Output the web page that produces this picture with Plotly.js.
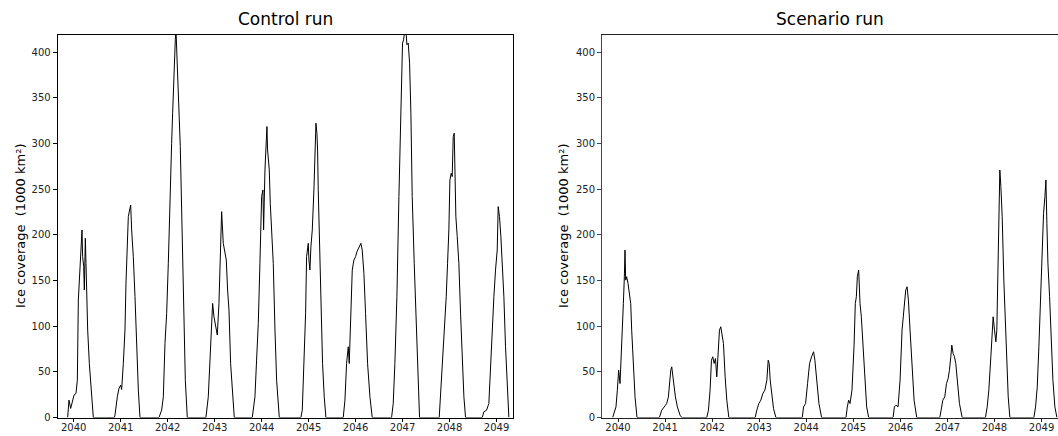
<!DOCTYPE html>
<html>
<head>
<meta charset="utf-8">
<script src="https://cdn.plot.ly/plotly-3.0.1.min.js"></script>
<style>
  html, body { margin: 0; padding: 0; background: #fff; }
  #chart { width: 1058px; height: 436px; }
</style>
</head>
<body>
<div id="chart"></div>
<script>
// ---- Data (decimal year, ice coverage in 1000 km²) ----
const yearTicks = [2040, 2041, 2042, 2043, 2044, 2045, 2046, 2047, 2048, 2049];
const yearLabels = ["2040", "2041", "2042", "2043", "2044", "2045", "2046", "2047", "2048", "2049"];
const valueTicks = [0, 50, 100, 150, 200, 250, 300, 350, 400];

const panelTitles = ["Control run", "Scenario run"];
const yTitle = "Ice coverage  (1000 km²)";

const controlTime = [
  2039.872,2039.900,2039.936,2039.971,2040.007,2040.049,2040.078,2040.099,2040.120,2040.135,2040.156,2040.177,2040.191,2040.213,2040.227,2040.248,2040.262,2040.276,2040.298,2040.333,2040.369,2040.418,
  2040.865,2040.879,2040.929,2040.964,2041.000,2041.021,2041.057,2041.092,2041.113,2041.135,2041.163,2041.191,2041.213,2041.234,2041.269,2041.305,2041.340,2041.376,2041.411,
  2041.815,2041.872,2041.908,2041.943,2041.979,2042.014,2042.049,2042.085,2042.106,2042.135,2042.163,2042.177,2042.198,2042.227,2042.248,2042.269,2042.291,2042.312,2042.340,2042.376,2042.418,
  2042.815,2042.865,2042.901,2042.936,2042.957,2042.986,2043.021,2043.057,2043.092,2043.120,2043.149,2043.184,2043.213,2043.248,2043.276,2043.305,2043.340,2043.383,2043.418,
  2043.801,2043.858,2043.893,2043.929,2043.964,2044.000,2044.028,2044.042,2044.071,2044.092,2044.113,2044.127,2044.142,2044.163,2044.184,2044.227,2044.248,2044.284,2044.319,2044.376,
  2044.836,2044.865,2044.907,2044.936,2044.957,2044.978,2044.993,2045.007,2045.028,2045.049,2045.078,2045.113,2045.134,2045.156,2045.177,2045.191,2045.205,2045.234,2045.262,2045.297,2045.333,2045.368,
  2045.737,2045.773,2045.808,2045.844,2045.865,2045.893,2045.929,2045.964,2046.000,2046.028,2046.071,2046.113,2046.141,2046.177,2046.212,2046.255,2046.305,2046.354,
  2046.766,2046.801,2046.836,2046.879,2046.922,2046.950,2046.978,2046.999,2047.021,2047.049,2047.071,2047.092,2047.120,2047.149,2047.177,2047.205,2047.248,2047.290,2047.333,2047.361,
  2047.780,2047.808,2047.851,2047.886,2047.929,2047.957,2047.985,2048.007,2048.035,2048.056,2048.078,2048.099,2048.113,2048.134,2048.163,2048.198,2048.234,2048.269,2048.305,2048.340,
  2048.695,2048.730,2048.787,2048.836,2048.872,2048.907,2048.943,2048.978,2049.014,2049.035,2049.063,2049.092,2049.120,2049.156,2049.191,2049.227,2049.262
];
const controlIce = [
  0,19.0,9.9,19.0,24.5,26.3,40.9,128.6,150.6,168.9,181.6,205.4,176.2,165.2,139.6,196.3,168.9,121.3,95.8,59.2,30.0,0,
  0,2.6,22.7,31.8,35.5,30.7,59.2,95.8,146.9,187.1,220.0,227.3,232.8,205.4,176.2,132.3,77.5,30.0,0,
  0,8.0,22.7,81.1,114.0,168.9,249.3,300.4,333.3,388.1,413.7,425,388.1,351.6,326.0,296.8,242.0,168.9,95.8,40.9,0,
  0,22.7,59.2,103.1,125.0,110.4,99.4,90.3,125.0,168.9,225.5,190.8,183.5,172.5,139.6,117.7,59.2,22.7,0,
  0,22.7,62.9,103.1,168.9,242.0,249.3,205.4,271.2,307.7,318.7,293.1,278.5,271.2,234.6,198.1,168.9,95.8,40.9,0,
  0,8.0,59.2,114.0,176.2,183.5,190.8,172.5,161.5,187.1,205.4,249.3,289.5,322.4,311.4,293.1,249.3,187.1,114.0,59.2,22.7,0,
  0,19.0,59.2,77.5,59.2,114.0,161.5,172.5,176.2,181.6,187.1,190.8,183.5,157.9,114.0,59.2,22.7,0,
  0,15.3,59.2,132.3,242.0,315.1,377.2,410.1,413.7,425,425,408.3,410.1,388.1,333.3,242.0,168.9,95.8,30.0,0,
  0,22.7,59.2,95.8,132.3,168.9,205.4,260.2,267.5,263.9,307.7,311.4,260.2,220.0,198.1,168.9,114.0,59.2,22.7,0,
  0,6.2,8.0,15.3,59.2,103.1,132.3,161.5,183.5,231.0,220.0,198.1,168.9,132.3,77.5,30.0,0
];

const scenarioTime = [
  2039.887,2039.915,2039.957,2039.986,2040.014,2040.043,2040.064,2040.085,2040.114,2040.135,2040.149,2040.163,2040.184,2040.213,2040.241,2040.270,2040.291,2040.326,2040.362,2040.404,
  2040.879,2040.929,2040.979,2041.035,2041.071,2041.092,2041.121,2041.142,2041.163,2041.191,2041.220,2041.262,2041.319,2041.355,
  2041.887,2041.922,2041.957,2041.986,2042.014,2042.043,2042.071,2042.099,2042.128,2042.156,2042.184,2042.213,2042.241,2042.277,2042.312,2042.355,
  2042.915,2042.950,2042.993,2043.035,2043.078,2043.121,2043.163,2043.192,2043.213,2043.234,2043.270,2043.305,2043.355,
  2043.915,2043.943,2043.986,2044.028,2044.071,2044.113,2044.156,2044.184,2044.227,2044.270,2044.326,
  2044.845,2044.873,2044.901,2044.930,2044.972,2045.015,2045.043,2045.065,2045.086,2045.114,2045.143,2045.171,2045.206,2045.242,2045.284,2045.327,
  2045.845,2045.873,2045.909,2045.951,2045.994,2046.036,2046.079,2046.114,2046.143,2046.171,2046.206,2046.249,2046.292,2046.348,
  2046.838,2046.866,2046.902,2046.944,2046.980,2047.015,2047.043,2047.072,2047.093,2047.121,2047.150,2047.178,2047.214,2047.256,2047.313,
  2047.809,2047.845,2047.880,2047.923,2047.951,2047.972,2048.001,2048.029,2048.050,2048.072,2048.093,2048.114,2048.136,2048.164,2048.199,2048.235,2048.263,2048.292,2048.327,
  2048.838,2048.873,2048.909,2048.944,2048.980,2049.015,2049.043,2049.072,2049.093,2049.114,2049.136,2049.171,2049.206,2049.242,2049.284,2049.327
];
const scenarioIce = [
  0,4.3,11.6,29.9,51.8,37.2,59.2,88.4,124.9,154.2,183.4,150.5,154.2,146.9,135.9,124.9,95.7,51.8,22.6,0,
  0,8.0,11.6,15.3,22.6,37.2,51.8,55.5,44.5,37.2,22.6,11.6,2.5,0,
  0,8.0,29.9,62.8,66.5,59.2,64.6,44.5,77.4,95.7,99.4,92.0,81.1,44.5,19.0,0,
  0,8.0,15.3,19.0,26.3,29.9,40.9,62.8,59.2,40.9,22.6,9.8,0,
  0,11.6,15.3,37.2,59.2,66.5,72.0,62.8,37.2,15.3,0,
  0,11.6,19.0,15.3,29.9,77.4,124.9,132.3,154.2,161.5,124.9,110.3,77.4,40.9,11.6,0,
  0,11.6,13.5,11.6,40.9,95.7,124.9,139.6,143.2,128.6,95.7,51.8,19.0,0,
  0,8.0,19.0,22.6,37.2,42.7,51.8,66.5,79.3,70.1,66.5,59.2,37.2,15.3,0,
  0,11.6,29.9,66.5,95.7,110.3,95.7,82.9,95.7,161.5,230.9,271.1,252.9,220.0,150.5,103.0,59.2,22.6,0,
  0,11.6,33.6,77.4,132.3,187.1,223.6,241.9,260.2,212.7,168.8,132.3,88.4,40.9,11.6,0
];

// ---- Figure ----
const W = 1058, H = 436;
const FONT = "DejaVu Sans, Liberation Sans, Arial, sans-serif";
const xRange = [2039.66, 2049.35];
const yRange = [0, 419];
const yDom = [(H - 417.5) / H, (H - 35) / H];
const xDomL = [57.7 / W, 513 / W];
const xDomR = [602 / W, 1.0];

const lineStyle = { color: "#000", width: 1 };

const traces = [
  { x: controlTime, y: controlIce, type: "scatter", mode: "lines", line: lineStyle, xaxis: "x", yaxis: "y", hoverinfo: "skip" },
  { x: scenarioTime, y: scenarioIce, type: "scatter", mode: "lines", line: lineStyle, xaxis: "x2", yaxis: "y2", hoverinfo: "skip" }
];

function xAx(dom, anchor, color) {
  return {
    domain: dom, anchor: anchor, range: xRange,
    tickmode: "array", tickvals: yearTicks, ticktext: yearLabels,
    ticks: "outside", ticklen: 3, tickwidth: 1, tickcolor: color,
    ticklabelstandoff: -3,
    showline: true, linecolor: color, linewidth: 1, mirror: true,
    showgrid: false, zeroline: false,
    tickfont: { family: FONT, size: 10, color: "#222" }
  };
}
function yAx(dom, anchor, color, mirror) {
  return {
    domain: dom, anchor: anchor, range: yRange,
    tickmode: "array", tickvals: valueTicks,
    ticks: "outside", ticklen: 4, tickwidth: 1, tickcolor: color,
    showline: true, linecolor: color, linewidth: 1, mirror: mirror,
    showgrid: false, zeroline: false,
    tickfont: { family: FONT, size: 10, color: "#222" }
  };
}

const layout = {
  width: W, height: H,
  margin: { l: 0, r: 0, t: 0, b: 0 },
  paper_bgcolor: "#fff", plot_bgcolor: "#fff",
  showlegend: false,
  xaxis: xAx(xDomL, "y", "#000"),
  yaxis: yAx(yDom, "x", "#000", true),
  xaxis2: xAx(xDomR, "y2", "#222"),
  yaxis2: yAx(yDom, "x2", "#444", false),
  annotations: [
    { text: panelTitles[0], xref: "paper", yref: "paper", x: (xDomL[0] + xDomL[1]) / 2, y: (H - 19) / H,
      xanchor: "center", yanchor: "middle", showarrow: false, font: { family: FONT, size: 17, color: "#000" } },
    { text: panelTitles[1], xref: "paper", yref: "paper", x: (xDomR[0] + 1058 / W) / 2 , y: (H - 19) / H,
      xanchor: "center", yanchor: "middle", showarrow: false, font: { family: FONT, size: 17, color: "#000" } },
    { text: yTitle, xref: "paper", yref: "paper", x: 20 / W, y: (H - 226) / H, textangle: -90,
      xanchor: "center", yanchor: "middle", showarrow: false, font: { family: FONT, size: 13, color: "#000" } },
    { text: yTitle, xref: "paper", yref: "paper", x: 563 / W, y: (H - 226) / H, textangle: -90,
      xanchor: "center", yanchor: "middle", showarrow: false, font: { family: FONT, size: 13, color: "#000" } }
  ]
};

Plotly.newPlot("chart", traces, layout, { staticPlot: true, displayModeBar: false });
</script>
</body>
</html>
